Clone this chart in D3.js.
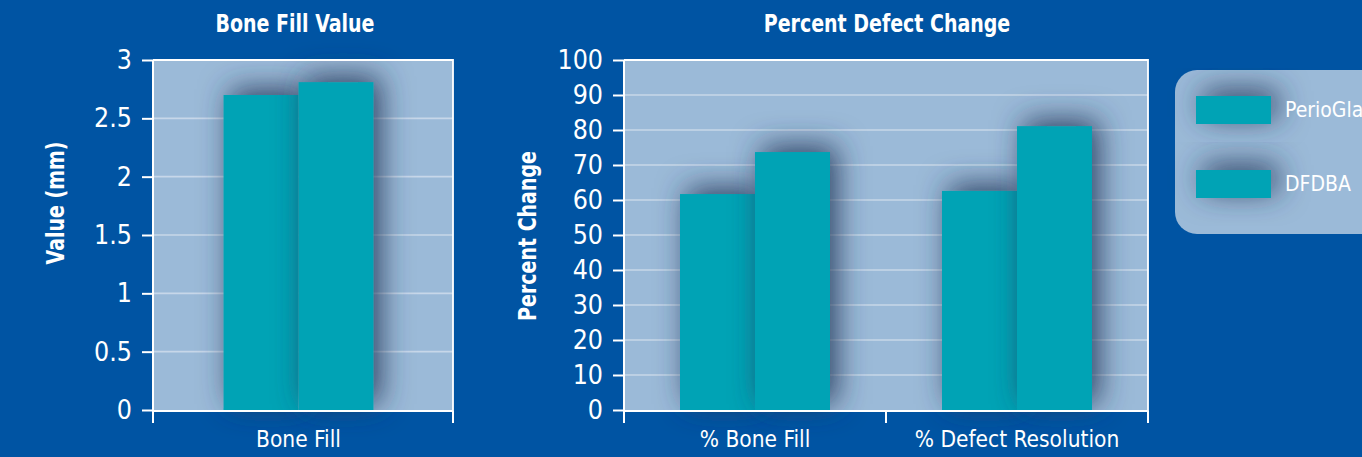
<!DOCTYPE html>
<html>
<head>
<meta charset="utf-8">
<script src="https://cdn.jsdelivr.net/npm/d3@7"></script>
<style>
  html, body { margin: 0; padding: 0; background: #0054a3; }
  svg { display: block; }
  text { font-family: "Liberation Sans Narrow", "DejaVu Sans Condensed", "Liberation Sans", sans-serif; fill: #ffffff; }
</style>
</head>
<body>
<svg id="chart" width="1362" height="457"></svg>
<script>
// Series shared by both panels
const series = ["PerioGlas", "DFDBA"];
const seriesColors = ["#02a3b5", "#02a3b5"];

// Panel 1: bone fill in millimetres
const fillCategories = ["Bone Fill"];
const fillPerioGlas = [2.70];
const fillDFDBA = [2.81];
const fillTicks = [0, 0.5, 1, 1.5, 2, 2.5, 3];

// Panel 2: percent change
const pctCategories = ["% Bone Fill", "% Defect Resolution"];
const pctPerioGlas = [61.7, 62.6];
const pctDFDBA = [73.7, 81.1];
const pctTicks = [0, 10, 20, 30, 40, 50, 60, 70, 80, 90, 100];

const svg = d3.select("#chart");
const W = 1362, H = 457;

svg.append("rect").attr("width", W).attr("height", H).attr("fill", "#0054a3");

const defs = svg.append("defs");
const shadow = defs.append("filter").attr("id", "barShadow")
  .attr("x", "-100%").attr("y", "-100%").attr("width", "300%").attr("height", "300%");
shadow.append("feDropShadow")
  .attr("dx", 7).attr("dy", -6).attr("stdDeviation", 15)
  .attr("flood-color", "#22385a").attr("flood-opacity", 0.9);

const plotFill = "#9bbad8";
const gridColor = "#c7d7e9";

function panel(opts) {
  const { left, right, top, bottom, categories, values, domainMax, ticks,
          title, titleX, yTitle, yTitleX, yTitleY, padInner, padOuter, align, tickFmt } = opts;

  const y = d3.scaleLinear().domain([0, domainMax]).range([bottom, top]);
  const x0 = d3.scaleBand().domain(categories).range([left, right])
    .paddingInner(padInner).paddingOuter(padOuter).align(align);
  const x1 = d3.scaleBand().domain(series).range([0, x0.bandwidth()]);

  const g = svg.append("g");

  // plot background
  g.append("rect").attr("x", left).attr("y", top)
    .attr("width", right - left).attr("height", bottom - top)
    .attr("fill", plotFill);

  // horizontal gridlines
  g.append("g").selectAll("line").data(ticks.filter(t => t > 0 && t < domainMax)).join("line")
    .attr("x1", left).attr("x2", right)
    .attr("y1", d => y(d)).attr("y2", d => y(d))
    .attr("stroke", gridColor).attr("stroke-width", 1.6);

  // bars, each with its own soft shadow
  const rows = categories.map((c, i) => ({ c, vals: values.map(v => v[i]) }));
  const bars = g.append("g");
  rows.forEach(r => {
    r.vals.forEach((v, si) => {
      bars.append("rect")
        .attr("x", x0(r.c) + x1(series[si]))
        .attr("y", y(v))
        .attr("width", x1.bandwidth())
        .attr("height", y(0) - y(v))
        .attr("fill", seriesColors[si])
        .attr("filter", "url(#barShadow)");
    });
  });

  // frame: top and right edges
  g.append("path")
    .attr("d", `M${left},${top}H${right}V${bottom + 13}`)
    .attr("fill", "none").attr("stroke", "#ffffff").attr("stroke-width", 1.8);

  // y axis
  const yAxis = d3.axisLeft(y).tickValues(ticks).tickSize(11).tickPadding(10).tickFormat(tickFmt);
  const ya = g.append("g").attr("transform", `translate(${left},0)`).call(yAxis);
  ya.select(".domain").attr("stroke", "#fff").attr("stroke-width", 2)
    .attr("d", `M0,${top}V${bottom + 13}`);
  ya.selectAll(".tick line").attr("stroke", "#fff").attr("stroke-width", 2);
  ya.selectAll(".tick text").attr("fill", "#fff").attr("font-size", 26.5)
    .attr("font-family", null);

  // x axis
  const xAxis = d3.axisBottom(x0).tickSize(0).tickPadding(20);
  const xa = g.append("g").attr("transform", `translate(0,${bottom + 1})`).call(xAxis);
  xa.select(".domain").attr("stroke", "#fff").attr("stroke-width", 2)
    .attr("d", `M${left},0H${right}`);
  xa.selectAll(".tick text").attr("fill", "#fff").attr("font-size", 22.5)
    .attr("font-family", null);
  // category boundary ticks
  const bounds = [left].concat(categories.map(c => x0(c) + x0.bandwidth() + x0.step() * padInner / 2).slice(0, -1)).concat([right]);
  xa.append("g").selectAll("line").data(bounds).join("line")
    .attr("x1", d => d).attr("x2", d => d).attr("y1", 0).attr("y2", 12)
    .attr("stroke", "#fff").attr("stroke-width", 2);

  // titles (slightly condensed bold)
  svg.append("text")
    .attr("transform", `translate(${titleX},32) scale(0.88,1)`)
    .attr("text-anchor", "middle").attr("font-size", 24).attr("font-weight", "bold")
    .text(title);
  svg.append("text")
    .attr("transform", `translate(${yTitleX},${yTitleY}) rotate(-90) scale(0.88,1)`)
    .attr("text-anchor", "middle").attr("font-size", 24).attr("font-weight", "bold")
    .text(yTitle);
}

panel({
  left: 153, right: 453, top: 60, bottom: 410,
  categories: fillCategories, values: [fillPerioGlas, fillDFDBA],
  domainMax: 3, ticks: fillTicks,
  title: "Bone Fill Value", titleX: 295,
  yTitle: "Value (mm)", yTitleX: 64, yTitleY: 203,
  padInner: 0, padOuter: 0.5, align: 0.47, tickFmt: d3.format("")
});

panel({
  left: 624, right: 1148, top: 60, bottom: 410,
  categories: pctCategories, values: [pctPerioGlas, pctDFDBA],
  domainMax: 100, ticks: pctTicks,
  title: "Percent Defect Change", titleX: 887,
  yTitle: "Percent Change", yTitleX: 536, yTitleY: 236,
  padInner: 0.4275, padOuter: 0.2137, align: 0.5, tickFmt: d3.format("")
});

// legend
const legend = svg.append("g");
legend.append("rect").attr("x", 1175).attr("y", 70).attr("width", 240).attr("height", 164)
  .attr("rx", 22).attr("fill", plotFill);
series.forEach((s, i) => {
  const yy = 96 + i * 74;
  legend.append("rect").attr("x", 1196).attr("y", yy).attr("width", 75).attr("height", 28)
    .attr("fill", seriesColors[i]).attr("filter", "url(#barShadow)");
  legend.append("text").attr("x", 1285).attr("y", yy + 14).attr("dy", "0.35em")
    .attr("font-size", 21).text(s);
});
</script>
</body>
</html>
